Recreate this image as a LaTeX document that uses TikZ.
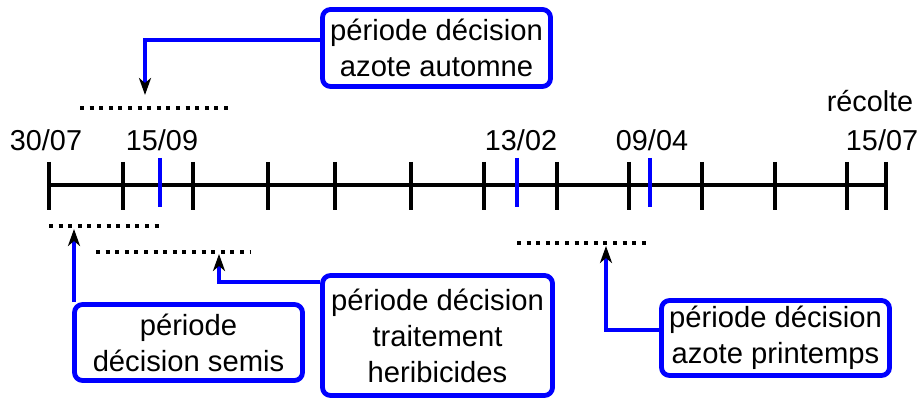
\documentclass[tikz,border=0pt]{standalone}
\usepackage{fontspec}
\setmainfont{Liberation Sans}
\usetikzlibrary{arrows.meta}
\begin{document}
\begin{tikzpicture}[x=0.5pt,y=-0.5pt,
 box/.style={draw=blue, line width=2.4pt, rounded corners=4pt, align=center, inner sep=0pt, font=\fontsize{14.6}{18}\selectfont},
 lbl/.style={font=\fontsize{14.4}{17}\selectfont, inner sep=0pt, anchor=base},
 blacktick/.style={line width=2pt},
 bluetick/.style={line width=1.7pt, draw=blue},
 dots/.style={line width=2pt, dash pattern=on 2pt off 2.8pt},
 conn/.style={draw=blue, line width=2pt, -{Stealth[black,length=8.5pt,width=6pt,inset=2.5pt]}}
]
\useasboundingbox (0,0) rectangle (921,405);

% timeline
\draw[line width=2pt] (49,185) -- (886,185);
\foreach \x in {49,123,193,268,335,411,484,557,629,702,775,847,886}
  \draw[blacktick] (\x,162) -- (\x,210);
\foreach \x in {160,517,650}
  \draw[bluetick] (\x,158) -- (\x,207);

% date labels
\node[lbl] (d1) at (46,151) {30/07};
\node[lbl] (d2) at (162,151) {15/09};
\node[lbl] (d3) at (521,151) {13/02};
\node[lbl] (d4) at (652,151) {09/04};
\node[lbl] (d5) at (882,151) {15/07};
\node[lbl] (rec) at (870,112) {récolte};

% dotted periods
\draw[dots] (80,108) -- (232,108);
\draw[dots] (49,226) -- (160,226);
\draw[dots] (96,252) -- (250,252);
\draw[dots] (517,243) -- (647,243);

% boxes
\node[box, minimum width=228pt/2, minimum height=77pt/2] (top) at (436.5,48) {période décision\\azote automne};
\node[box, minimum width=228pt/2, minimum height=76pt/2] (sem) at (188.5,342.5) {période\\décision semis};
\node[box, minimum width=230pt/2, minimum height=120pt/2] (mid) at (437.5,335.5) {période décision\\traitement\\heribicides};
\node[box, minimum width=228pt/2, minimum height=75pt/2] (pri) at (775.5,338) {période décision\\azote printemps};

% connectors
\coordinate (y1) at (0,40);
\coordinate (a1) at (145,95);
\draw[conn] (top.west |- y1) -| (a1);

\coordinate (a2) at (74,229);
\draw[conn] (a2 |- sem.north) -- (a2);

\coordinate (y3) at (0,282);
\coordinate (a3) at (219,254);
\draw[conn] (mid.west |- y3) -| (a3);

\coordinate (y4) at (0,330);
\coordinate (a4) at (606,246);
\draw[conn] (pri.west |- y4) -| (a4);
\end{tikzpicture}
\end{document}
